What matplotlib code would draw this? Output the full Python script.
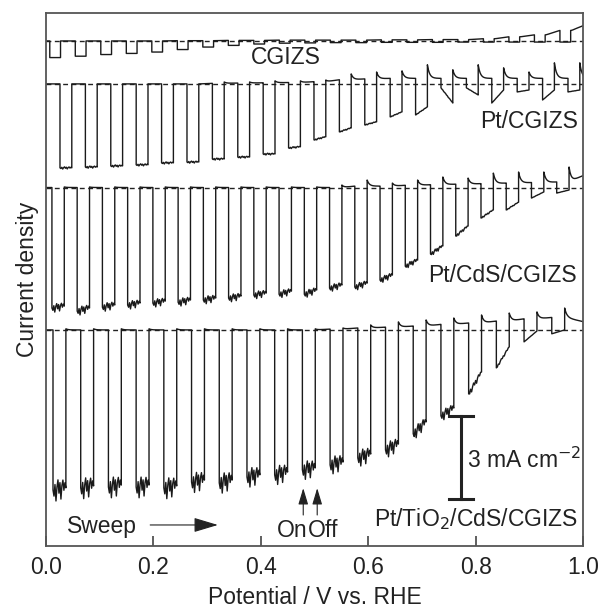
import numpy as np
import matplotlib
matplotlib.use('Agg')
import matplotlib.pyplot as plt

plt.rcParams['font.family'] = ['Liberation Sans', 'DejaVu Sans']

# chopped-light sweeps, current in mA cm-2 relative to each baseline (negative = cathodic)
# chopping of each sweep: (first light-on potential, period, light-on length) in V
cgizs_chop = (0.007, 0.0475, 0.020)
pt_chop = (0.026, 0.0473, 0.022)
cds_chop = (0.011, 0.047, 0.023)
tio2_chop = (0.013, 0.0516, 0.024)

# CGIZS
cgizs_on = [0.60, 0.55, 0.49, 0.45, 0.40, 0.31, 0.22, 0.16, 0.11, 0.08, 0.07,
            0.06, 0.06, 0.05, 0.05, 0.05, 0.04, 0.04, 0.04, 0.04, 0.04]
cgizs_end = cgizs_on
cgizs_spike = [0.0] * 21
cgizs_dark = [0, 0, 0, 0, 0, 0.01, 0.01, 0.02, 0.02, 0.03, 0.03,
              0.03, 0.03, 0.04, 0.04, 0.05, 0.05, 0.08, 0.15, 0.22, 0.38]
cgizs_last = 0.55

# Pt/CGIZS
pt_on = [3.03, 3.00, 2.96, 2.92, 2.85, 2.82, 2.71, 2.64, 2.53, 2.31, 2.02,
         1.73, 1.48, 1.19, 1.12, 0.14, 0.14, 0.69, 0.29, 0.58, 0.29]
pt_end = [3.03, 3.00, 2.96, 2.92, 2.85, 2.82, 2.71, 2.64, 2.53, 2.27, 1.91,
          1.59, 1.37, 1.01, 0.83, 0.69, 0.40, 0.22, 0.22, 0.22, 0.22]
pt_spike = [0, 0, 0, 0, 0, 0, 0.07, 0.07, 0.11, 0.11, 0.14,
            0.36, 0.43, 0.47, 0.69, 0.51, 0.69, 0.58, 0.43, 0.76, 0.76]
pt_dark = [0, 0, 0, 0, 0, 0, 0.02, 0.03, 0.04, 0.05, 0.08,
           0.15, 0.18, 0.2, 0.2, 0.2, 0.2, 0.2, 0.2, 0.2, 0.2]
pt_last = 0.2

# Pt/CdS/CGIZS
cds_on = [4.33, 4.44, 4.30, 4.22, 4.15, 4.12, 4.04, 3.97, 3.86, 3.83, 3.83,
          3.61, 3.57, 3.32, 2.82, 2.38, 1.73, 1.08, 0.79, 0.36, 0.18]
cds_end = [4.26, 4.33, 4.22, 4.15, 4.08, 4.04, 3.97, 3.90, 3.79, 3.72, 3.68,
           3.50, 3.43, 3.14, 2.60, 2.09, 1.37, 0.79, 0.51, 0.14, 0.07]
cds_spike = [0.04] * 11 + [0.11, 0.29, 0.18, 0.29, 0.40, 0.36, 0.54, 0.58, 0.58, 0.76]
cds_dark = [0.02] * 12 + [0.07, 0.07, 0.1, 0.12, 0.14, 0.16, 0.18, 0.2, 0.22]
cds_last = 0.45

# Pt/TiO2/CdS/CGIZS
tio2_on = [5.78, 5.70, 5.67, 5.67, 5.70, 5.49, 5.52, 5.31, 5.23, 5.05,
           4.87, 4.62, 4.33, 3.75, 3.10, 2.31, 1.37, 0.43, 0.14]
tio2_end = [5.70, 5.63, 5.60, 5.60, 5.63, 5.42, 5.42, 5.23, 5.13, 4.98,
            4.77, 4.48, 4.12, 3.32, 2.82, 1.52, 0.61, 0.04, 0.00]
tio2_spike = [0.04] * 10 + [0.07, 0.18, 0.29, 0.36, 0.43, 0.54, 0.61, 0.65, 0.79]
tio2_dark = [0] * 10 + [0.03, 0.07, 0.1, 0.14, 0.2, 0.25, 0.32, 0.4, 0.45]
tio2_last = 0.3

# wiggle seen on the bottom of the light-on steps
ripple = [0, -0.3, 0.25, -0.55, 0.1, 0.45, -0.2, 0.3, -0.5, 0.15, 0.4, -0.1, 0.25, 0]

baselines = [18.23, 16.68, 12.92, 7.80]
ripple_amp = [0.0, 0.08, 0.3, 0.75]


def chopped(chop, d_on, d_end, spike, dark, last, amp):
    t0, per, dur = chop
    n = len(d_on)
    rip = np.array(ripple)
    f = np.linspace(0, 1, len(rip))
    dmax = max(d_end)
    xs = [0.0]
    ys = [dark[0]]
    for k in range(n):
        on = t0 + k * per
        off = on + dur
        nxt = min(t0 + (k + 1) * per, 1.0) if k < n - 1 else 1.0
        nd = dark[k + 1] if k < n - 1 else last
        xs.append(on)
        ys.append(dark[k])
        seg = -(d_on[k] + (d_end[k] - d_on[k]) * f) + amp * rip * d_end[k] / dmax
        xs += list(on + f * dur)
        ys += list(seg)
        t = np.linspace(off, nxt, 30)
        base = dark[k] + (nd - dark[k]) * (t - off) / (nxt - off)
        top = max(spike[k], dark[k])
        xs += list(t)
        ys += list(base + (top - base) * np.exp(-(t - off) / 0.004))
    return np.array(xs), np.array(ys)


fig = plt.figure(figsize=(6, 6.12), dpi=100)
ax = fig.add_axes([0.0767, 0.1078, 0.895, 0.871])

traces = [
    (cgizs_chop, cgizs_on, cgizs_end, cgizs_spike, cgizs_dark, cgizs_last),
    (pt_chop, pt_on, pt_end, pt_spike, pt_dark, pt_last),
    (cds_chop, cds_on, cds_end, cds_spike, cds_dark, cds_last),
    (tio2_chop, tio2_on, tio2_end, tio2_spike, tio2_dark, tio2_last),
]
for (chop, don, dend, sp, dk, ls), off, amp in zip(traces, baselines, ripple_amp):
    ax.axhline(off, color='#222222', lw=1.0, ls=(0, (3.5, 2.5)))
    x, y = chopped(chop, don, dend, sp, dk, ls, amp)
    ax.plot(x, y + off, color='#1a1a1a', lw=1.0)

tc = '#222222'
fs = 16.5
ax.text(0.447, 17.65, 'CGIZS', ha='center', va='center', fontsize=fs, color=tc)
ax.text(0.991, 15.34, 'Pt/CGIZS', ha='right', va='center', fontsize=fs, color=tc)
ax.text(0.989, 9.75, 'Pt/CdS/CGIZS', ha='right', va='center', fontsize=fs, color=tc)
ax.text(0.991, 0.97, 'Pt/TiO$_2$/CdS/CGIZS', ha='right', va='center', fontsize=fs, color=tc)

# 3 mA cm-2 scale bar
ax.plot([0.773, 0.773], [1.70, 4.69], color=tc, lw=2.2)
ax.plot([0.750, 0.796], [4.69, 4.69], color=tc, lw=2.2)
ax.plot([0.750, 0.796], [1.70, 1.70], color=tc, lw=2.2)
ax.text(0.784, 3.10, '3 mA cm$^{-2}$', ha='left', va='center', fontsize=fs, color=tc)

ax.text(0.039, 0.47, 'Sweep', ha='left', va='baseline', fontsize=fs, color=tc)
ax.annotate('', xy=(0.320, 0.76), xytext=(0.194, 0.76),
            arrowprops=dict(arrowstyle='-|>,head_length=1.5,head_width=0.45',
                            color=tc, lw=0.8, shrinkA=0, shrinkB=0))
ax.text(0.486, 0.32, 'On', ha='right', va='baseline', fontsize=fs, color=tc)
ax.text(0.487, 0.32, 'Off', ha='left', va='baseline', fontsize=fs, color=tc)
for xa in [0.479, 0.505]:
    ax.annotate('', xy=(xa, 2.09), xytext=(xa, 1.12),
                arrowprops=dict(arrowstyle='-|>,head_length=1.0,head_width=0.3',
                                color=tc, lw=0.8, shrinkA=0, shrinkB=0))

ax.set_xlim(0, 1)
ax.set_ylim(0, 19.24)
ax.set_xticks([0, 0.2, 0.4, 0.6, 0.8, 1.0])
ax.set_xticklabels(['0.0', '0.2', '0.4', '0.6', '0.8', '1.0'])
ax.set_yticks([])
ax.tick_params(axis='x', direction='in', length=7.5, width=1.2, color='#444444',
               labelsize=fs, labelcolor=tc, pad=7)
for s in ax.spines.values():
    s.set_color('#555555')
    s.set_linewidth(1.3)
ax.set_xlabel('Potential / V vs. RHE', fontsize=fs, color=tc, labelpad=5)
ax.set_ylabel('Current density', fontsize=fs, color=tc, labelpad=5)

fig.savefig('out.png', dpi=100)
